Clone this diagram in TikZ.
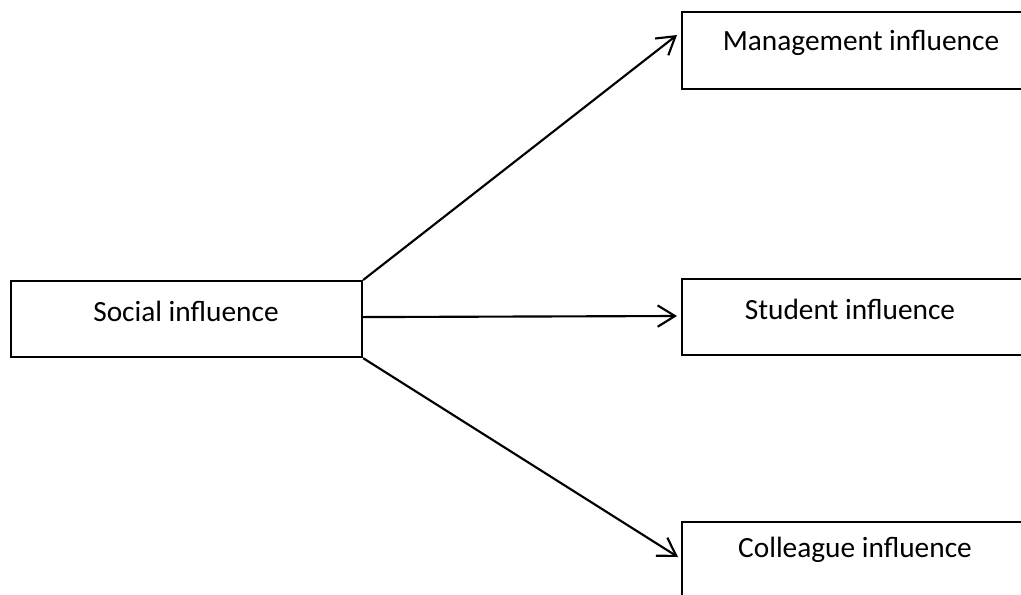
\documentclass[tikz,border=0pt]{standalone}
\usepackage{fontspec}
\setmainfont{Carlito}
\usetikzlibrary{arrows.meta}
\begin{document}
\begin{tikzpicture}[x=0.75pt,y=-0.75pt,
  box/.style={draw, line width=1.6pt, rectangle, inner sep=0pt, anchor=north west},
  lbl/.style={font=\fontsize{22}{26}\selectfont, inner sep=0pt},
  arr/.style={line width=1.6pt, -{Straight Barb[length=13pt,width=16pt,line width=1.6pt]}}]
\useasboundingbox (0,0) rectangle (1021,594);
% boxes (the right-hand ones run past the page edge)
\node[box, minimum width=263.25pt, minimum height=57pt] (soc) at (10,280) {};
\node[box, minimum width=300pt, minimum height=57.75pt] (mgmt) at (681,11) {};
\node[box, minimum width=300pt, minimum height=57pt] (stud) at (681,278) {};
\node[box, minimum width=300pt, minimum height=57.75pt] (coll) at (681,521) {};
% labels
\node[lbl] (tsoc) at (186,311) {Social influence};
\node[lbl] (tmgmt) at (861,43) {Management influence};
\node[lbl] (tstud) at (850,309) {Student influence};
\node[lbl] (tcoll) at (855,550) {Colleague influence};
% connectors
\coordinate (m) at ([xshift=-3pt,yshift=-18pt]mgmt.north west);
\coordinate (s) at ([xshift=-3pt,yshift=-28.5pt]stud.north west);
\coordinate (c) at ([xshift=-2.25pt,yshift=-27pt]coll.north west);
\draw[arr] (soc.north east) -- (m);
\draw[arr] ([yshift=1.5pt]soc.east) -- (s);
\draw[arr] (soc.south east) -- (c);
\end{tikzpicture}
\end{document}
